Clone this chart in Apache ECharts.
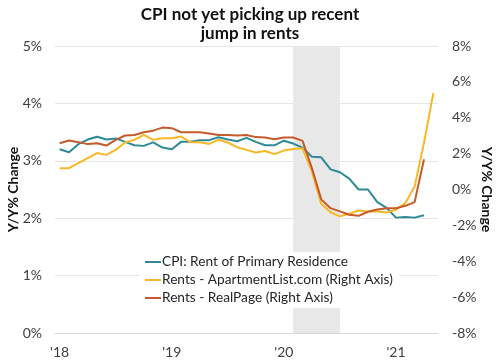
<!DOCTYPE html>
<html>
<head>
<meta charset="utf-8">
<script src="https://cdn.jsdelivr.net/npm/echarts@6/dist/echarts.min.js"></script>
<style>html,body{margin:0;padding:0;background:#fff}#c{width:500px;height:363px}</style>
</head>
<body>
<div id="c"></div>
<script>
const months = ['Jan-18','Feb-18','Mar-18','Apr-18','May-18','Jun-18','Jul-18','Aug-18','Sep-18','Oct-18','Nov-18','Dec-18',
  'Jan-19','Feb-19','Mar-19','Apr-19','May-19','Jun-19','Jul-19','Aug-19','Sep-19','Oct-19','Nov-19','Dec-19',
  'Jan-20','Feb-20','Mar-20','Apr-20','May-20','Jun-20','Jul-20','Aug-20','Sep-20','Oct-20','Nov-20','Dec-20',
  'Jan-21','Feb-21','Mar-21','Apr-21','May-21'];
const cpi = [3.20,3.15,3.29,3.37,3.42,3.37,3.39,3.33,3.27,3.26,3.32,3.23,
  3.20,3.33,3.33,3.36,3.36,3.41,3.37,3.34,3.40,3.33,3.27,3.27,
  3.35,3.30,3.23,3.07,3.06,2.85,2.80,2.69,2.50,2.50,2.28,2.18,
  2.01,2.02,2.01,2.05,null];
const apartmentList = [1.19,1.19,1.47,1.75,2.03,1.93,2.21,2.62,2.77,3.04,2.77,2.86,
  2.86,2.95,2.64,2.64,2.54,2.77,2.62,2.36,2.21,2.06,2.15,1.97,
  2.17,2.26,2.30,1.0,-0.8,-1.27,-1.50,-1.35,-1.17,-1.22,-1.22,-1.28,
  -1.13,-0.76,0.17,2.6,5.37];
const realPage = [2.58,2.73,2.64,2.53,2.58,2.45,2.77,3.01,3.04,3.19,3.28,3.45,
  3.42,3.19,3.19,3.19,3.12,3.04,3.04,3.01,3.04,2.92,2.90,2.80,
  2.90,2.90,2.71,1.2,-0.55,-1.04,-1.22,-1.41,-1.47,-1.24,-1.11,-1.04,
  -1.04,-0.91,-0.70,1.68,null];
const shadeRange = ['Feb-20','Jul-20'];
const seriesNames = ['CPI: Rent of Primary Residence','Rents - ApartmentList.com (Right Axis)','Rents - RealPage (Right Axis)'];
const title = 'CPI not yet picking up recent\njump in rents';
const axisName = 'Y/Y% Change';

const FONT = 'Lato';
const chart = echarts.init(document.getElementById('c'), null, {renderer: 'canvas'});
chart.setOption({
  animation: false,
  backgroundColor: '#fff',
  textStyle: {fontFamily: FONT},
  title: {
    text: title, left: 'center', top: 0,
    textStyle: {fontFamily: FONT, fontWeight: 'bold', fontSize: 17, lineHeight: 19, color: '#111'}
  },
  grid: {left: 55, right: 62, top: 46, bottom: 30, containLabel: false, outerBoundsMode: 'none'},
  legend: {
    orient: 'vertical', left: 139, top: 252,
    backgroundColor: '#fff', padding: [3, 6, 3, 6],
    itemWidth: 16, itemHeight: 2, itemGap: 4, icon: 'rect',
    textStyle: {fontFamily: FONT, fontSize: 13.7, color: '#262626', padding: [0,0,0,-4], lineHeight: 14},
    data: seriesNames
  },
  xAxis: {
    type: 'category', data: months, boundaryGap: true,
    axisLine: {lineStyle: {color: '#d9d9d9'}},
    axisTick: {length: 5, lineStyle: {color: '#d9d9d9'}, interval: (i) => i % 12 === 0},
    axisLabel: {
      interval: (i) => i % 12 === 0, margin: 12,
      fontFamily: FONT, fontSize: 14, color: '#404040',
      formatter: (v) => "'" + v.slice(4)
    }
  },
  yAxis: [{
    type: 'value', min: 0, max: 5, interval: 1,
    name: axisName, nameLocation: 'middle', nameGap: 35, nameRotate: 90, nameMoveOverlap: false,
    nameTextStyle: {fontFamily: FONT, fontWeight: 'bold', fontSize: 14, color: '#111'},
    axisLabel: {formatter: '{value}%', fontFamily: FONT, fontSize: 14, color: '#404040', margin: 13},
    splitLine: {lineStyle: {color: '#e6e6e6'}},
    axisLine: {show: false}, axisTick: {show: false}
  }, {
    type: 'value', min: -8, max: 8, interval: 2,
    name: axisName, nameLocation: 'middle', nameGap: 42, nameRotate: -90, nameMoveOverlap: false,
    nameTextStyle: {fontFamily: FONT, fontWeight: 'bold', fontSize: 14, color: '#111'},
    axisLabel: {formatter: '{value}%', fontFamily: FONT, fontSize: 14, color: '#404040', margin: 14},
    splitLine: {show: false}, axisLine: {show: false}, axisTick: {show: false}
  }],
  series: [{
    name: seriesNames[0], type: 'line', data: cpi, yAxisIndex: 0,
    showSymbol: false, symbol: 'none', lineStyle: {width: 2, color: '#2f8a98'}, itemStyle: {color: '#2f8a98'},
    markArea: {silent: true, itemStyle: {color: '#e8e8e8'}, data: [[{xAxis: shadeRange[0]}, {xAxis: shadeRange[1]}]]},
    z: 3
  }, {
    name: seriesNames[1], type: 'line', data: apartmentList, yAxisIndex: 1,
    showSymbol: false, symbol: 'none', lineStyle: {width: 2, color: '#f6b826'}, itemStyle: {color: '#f6b826'}, z: 4
  }, {
    name: seriesNames[2], type: 'line', data: realPage, yAxisIndex: 1,
    showSymbol: false, symbol: 'none', lineStyle: {width: 2, color: '#c55a2a'}, itemStyle: {color: '#c55a2a'}, z: 5
  }]
});
</script>
</body>
</html>
